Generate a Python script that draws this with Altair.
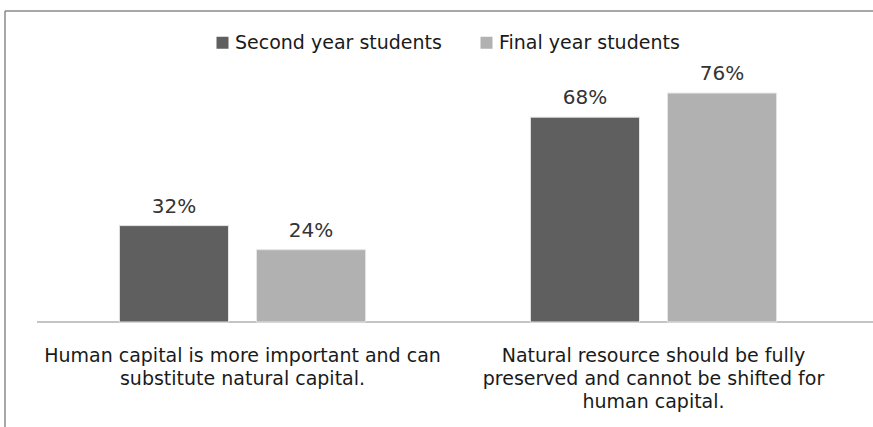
import altair as alt
import pandas as pd

cat_lines = [
    ["Human capital is more important and can", "substitute natural capital."],
    ["Natural resource should be fully", "preserved and cannot be shifted for", "human capital."],
]
categories = ["|".join(l) for l in cat_lines]
series = ["Second year students", "Final year students"]
second_year = [0.32, 0.68]
final_year = [0.24, 0.76]
colors = ["#5f5f5f", "#b1b1b1"]

rows = []
for i, c in enumerate(categories):
    rows.append({"category": c, "series": series[0], "value": second_year[i]})
    rows.append({"category": c, "series": series[1], "value": final_year[i]})
df = pd.DataFrame(rows)

W, H = 822, 241
FONT = "DejaVu Sans"

x = alt.X(
    "category:N", sort=categories,
    scale=alt.Scale(paddingInner=0.401, paddingOuter=0.2005),
    axis=alt.Axis(title=None, labelAngle=0, labelExpr="split(datum.label, '|')",
                  labelFont=FONT, labelFontSize=19, labelColor="#1a1a1a",
                  labelLineHeight=23, labelPadding=24, labelLimit=700,
                  ticks=False, domain=False, labelAlign="center", grid=False),
)
xo = alt.XOffset("series:N", sort=series, scale=alt.Scale(paddingInner=0.204, paddingOuter=0))
y = alt.Y("value:Q", scale=alt.Scale(domain=[0, 0.8]), axis=None)
color = alt.Color(
    "series:N", sort=series, scale=alt.Scale(domain=series, range=colors),
    legend=alt.Legend(title=None, orient="none", legendX=176, legendY=-48,
                      direction="horizontal", symbolType="square", symbolSize=144,
                      symbolStrokeWidth=0, labelFont=FONT, labelFontSize=19,
                      labelColor="#1a1a1a", labelOffset=3, columnPadding=35,
                      padding=0, labelLimit=500),
)

base = alt.Chart(df)
bars = base.mark_bar(stroke="#e6e6e6", strokeWidth=1).encode(x=x, xOffset=xo, y=y, color=color)
labels = base.mark_text(dy=-9, baseline="bottom", font=FONT, fontSize=20, color="#333333").encode(
    x=x, xOffset=xo, y=y, text=alt.Text("value:Q", format=".0%"))

deco = alt.Chart(pd.DataFrame({"k": [0]}))
baseline = deco.mark_rule(color="#8a8a8a", strokeWidth=1.2).encode(
    x=alt.value(0), x2=alt.value(836), y=alt.value(H))
frame_top = deco.mark_rule(color="#8a8a8a", strokeWidth=1.5).encode(
    x=alt.value(-32), x2=alt.value(900), y=alt.value(-70))
frame_left = deco.mark_rule(color="#8a8a8a", strokeWidth=1.5).encode(
    x=alt.value(-32), y=alt.value(-70), y2=alt.value(400))

chart = alt.layer(frame_top, frame_left, baseline, bars, labels).properties(
    width=W, height=H,
    padding={"left": 37, "top": 81, "right": 14, "bottom": 105},
    autosize="none", background="white",
).configure_view(stroke=None)

chart.save("out.html", embed_options={"renderer": "svg", "actions": False})
